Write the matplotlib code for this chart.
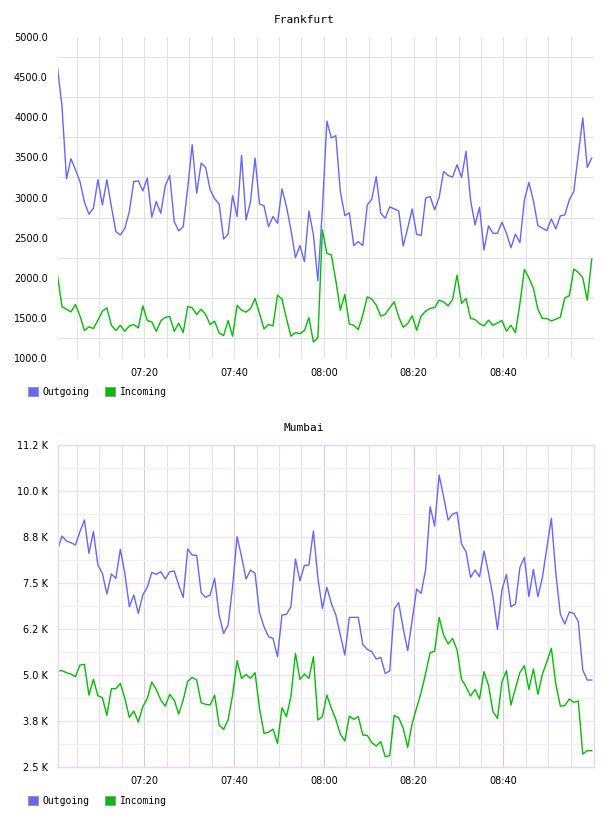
import pandas as pd
import matplotlib.pyplot as plt
import matplotlib.dates as mdates
import numpy as np
from matplotlib.patches import Patch

# Datos (un punto por minuto)
frankfurt_out = [4617, 4137, 3233, 3483, 3346, 3200, 2942, 2792, 2867, 3221,
                 2908, 3221, 2887, 2575, 2533, 2617, 2825, 3200, 3208, 3083,
                 3242, 2754, 2950, 2804, 3146, 3275, 2700, 2583, 2637, 3117,
                 3658, 3054, 3429, 3375, 3096, 2983, 2921, 2483, 2542, 3025,
                 2763, 3525, 2721, 2950, 3492, 2921, 2896, 2637, 2763, 2679,
                 3108, 2887, 2596, 2250, 2400, 2200, 2833, 2533, 1962, 2850,
                 3950, 3742, 3771, 3075, 2775, 2808, 2400, 2450, 2400, 2908,
                 2979, 3262, 2804, 2742, 2883, 2858, 2833, 2396, 2617, 2858,
                 2542, 2525, 2992, 3012, 2846, 3000, 3325, 3275, 3254, 3408,
                 3250, 3575, 2971, 2658, 2879, 2346, 2646, 2554, 2554, 2692,
                 2554, 2375, 2542, 2437, 2971, 3187, 2962, 2650, 2617, 2587,
                 2733, 2608, 2771, 2783, 2971, 3075, 3533, 3992, 3375, 3492]
frankfurt_in = [2033, 1638, 1608, 1575, 1667, 1525, 1342, 1388, 1367, 1471,
                1583, 1625, 1408, 1342, 1408, 1333, 1400, 1417, 1375, 1650,
                1467, 1450, 1333, 1462, 1508, 1517, 1333, 1433, 1317, 1642,
                1625, 1542, 1608, 1542, 1417, 1458, 1312, 1279, 1467, 1271,
                1654, 1596, 1571, 1617, 1742, 1554, 1362, 1417, 1400, 1783,
                1733, 1492, 1271, 1317, 1304, 1342, 1504, 1200, 1254, 2596,
                2304, 2283, 1962, 1596, 1792, 1425, 1408, 1354, 1533, 1763,
                1733, 1658, 1521, 1546, 1625, 1700, 1512, 1383, 1429, 1525,
                1346, 1525, 1583, 1617, 1629, 1721, 1700, 1650, 1729, 2033,
                1679, 1742, 1492, 1479, 1429, 1400, 1471, 1408, 1437, 1467,
                1333, 1408, 1317, 1679, 2104, 2000, 1867, 1608, 1492, 1492,
                1462, 1483, 1508, 1750, 1775, 2108, 2067, 2000, 1721, 2233]
mumbai_out = [8388, 8768, 8632, 8587, 8524, 8886, 9203, 8297, 8886, 7980,
              7754, 7192, 7736, 7618, 8406, 7754, 6848, 7165, 6667, 7165,
              7373, 7781, 7726, 7799, 7600, 7799, 7817, 7437, 7101, 8415,
              8252, 8243, 7228, 7101, 7165, 7618, 6621, 6123, 6350, 7391,
              8750, 8207, 7600, 7844, 7754, 6685, 6304, 6033, 5987, 5489,
              6621, 6639, 6848, 8143, 7554, 7971, 7980, 8904, 7618, 6802,
              7373, 6938, 6621, 6078, 5534, 6558, 6558, 6558, 5824, 5688,
              5625, 5425, 5471, 5036, 5100, 6784, 6957, 6259, 5652, 6485,
              7328, 7210, 7862, 9565, 9040, 10426, 9837, 9203, 9366, 9411,
              8551, 8342, 7645, 7844, 7663, 8360, 7772, 7120, 6232, 7301,
              7726, 6848, 6920, 7917, 8188, 7120, 7862, 7120, 7636, 8451,
              9248, 7754, 6648, 6377, 6703, 6667, 6440, 5127, 4855, 4855]
mumbai_in = [5100, 5109, 5054, 5018, 4946, 5263, 5281, 4447, 4873, 4429,
             4375, 3895, 4620, 4620, 4764, 4357, 3841, 4013, 3714, 4130,
             4357, 4801, 4601, 4312, 4149, 4466, 4312, 3931, 4312, 4819,
             4927, 4855, 4239, 4194, 4176, 4447, 3632, 3515, 3768, 4447,
             5380, 4900, 5009, 4900, 5054, 4085, 3406, 3433, 3524, 3134,
             4103, 3859, 4420, 5580, 4873, 5018, 4900, 5489, 3768, 3859,
             4447, 4085, 3786, 3388, 3198, 3877, 3786, 3859, 3360, 3351,
             3152, 3062, 3180, 2772, 2799, 3895, 3832, 3542, 3025, 3677,
             4103, 4520, 5036, 5598, 5634, 6558, 6078, 5833, 5987, 5670,
             4873, 4674, 4420, 4601, 4339, 5082, 4710, 3995, 3813, 4810,
             5109, 4176, 4629, 5063, 5245, 4601, 5154, 4466, 5009, 5353,
             5716, 4737, 4149, 4158, 4339, 4249, 4285, 2844, 2935, 2935]

series = ['Outgoing', 'Incoming']
colores = ['#6666ff', '#00c000']
etiquetas_hora = ['07:20', '07:40', '08:00', '08:20', '08:40']

tiempos = pd.date_range('2024-01-01 07:00:40', periods=len(frankfurt_out), freq='min')
x_ini = tiempos[0]
x_fin = tiempos[0] + pd.Timedelta(seconds=119.5 * 60)
horas_mayor = pd.to_datetime(['2024-01-01 ' + h for h in etiquetas_hora])
horas_menor = pd.date_range('2024-01-01 07:05', '2024-01-01 08:55', freq='5min')

fig = plt.figure(figsize=(6.08, 8.16), dpi=100)
fuente_mono = 'DejaVu Sans Mono'


def leyenda(y_fig):
    handles = [Patch(facecolor=c, edgecolor='#999999', linewidth=0.8, label=s)
               for s, c in zip(series, colores)]
    fig.legend(handles=handles, loc='center left', bbox_to_anchor=(0.038, y_fig),
               ncol=2, frameon=False, borderpad=0, handlelength=1.0, handleheight=1.0,
               handletextpad=0.5, columnspacing=1.6,
               prop={'family': fuente_mono, 'size': 7})


def eje_x(ax):
    ax.set_xlim(x_ini, x_fin)
    ax.set_xticks(horas_mayor)
    ax.set_xticks(horas_menor, minor=True)
    ax.xaxis.set_major_formatter(mdates.DateFormatter('%H:%M'))
    ax.tick_params(axis='both', which='both', length=0, labelsize=7, pad=7)


# Grafico Frankfurt
ax1 = fig.add_axes([57.5 / 608, 1 - 358 / 816, 536.5 / 608, 321 / 816])
ax1.plot(tiempos, frankfurt_out, color=colores[0], linewidth=1.0)
ax1.plot(tiempos, frankfurt_in, color=colores[1], linewidth=1.0)
ax1.set_ylim(1000, 5000)
ax1.set_yticks(np.arange(1000, 5001, 500))
ax1.set_yticks(np.arange(1250, 5000, 500), minor=True)
ax1.set_yticklabels([f'{v:.1f}' for v in np.arange(1000, 5001, 500)])
eje_x(ax1)
ax1.grid(True, which='minor', color='#e2e2e2', linewidth=0.8)
ax1.grid(True, which='major', axis='x', color='#e2e2e2', linewidth=0.8)
ax1.set_axisbelow(True)
for s in ax1.spines.values():
    s.set_visible(False)
fig.text(0.5, 1 - 20 / 816, 'Frankfurt', ha='center', va='center',
         family=fuente_mono, fontsize=8)
leyenda(1 - 392 / 816)

# Grafico Mumbai
ax2 = fig.add_axes([57.5 / 608, 1 - 766.7 / 816, 536.5 / 608, 322 / 816])
ax2.plot(tiempos, mumbai_out, color=colores[0], linewidth=1.0)
ax2.plot(tiempos, mumbai_in, color=colores[1], linewidth=1.0)
ax2.set_ylim(2500, 11250)
ax2.set_yticks(np.arange(2500, 11251, 1250))
ax2.set_yticks(np.arange(3125, 11250, 1250), minor=True)
ax2.set_yticklabels([f'{v / 1000:.1f} K' for v in np.arange(2500, 11251, 1250)])
eje_x(ax2)
ax2.grid(True, which='major', axis='y', color='#f0e2f0', linewidth=1.0)
ax2.grid(True, which='minor', axis='y', color='#f3f0f3', linewidth=1.0)
ax2.grid(True, which='major', axis='x', color='#dcc8e2', linewidth=0.8)
ax2.grid(True, which='minor', axis='x', color='#e6e0e8', linewidth=0.8)
ax2.set_axisbelow(True)
for s in ax2.spines.values():
    s.set_color('#ead6ee')
    s.set_linewidth(1.0)
fig.text(0.5, 1 - 428 / 816, 'Mumbai', ha='center', va='center',
         family=fuente_mono, fontsize=8)
leyenda(1 - 800.5 / 816)

plt.savefig('out.png', dpi=100)
